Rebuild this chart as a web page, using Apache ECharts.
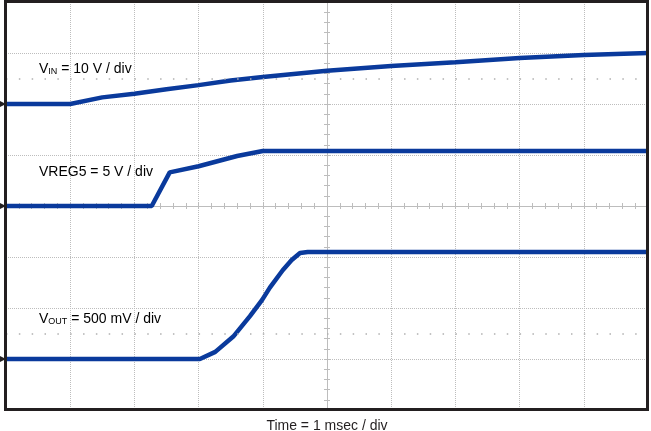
<!DOCTYPE html>
<html lang="en">
<head>
    <meta charset="UTF-8">
    <title>Startup waveforms</title>
    <script type="text/javascript" src="https://cdn.jsdelivr.net/npm/echarts@6/dist/echarts.min.js"></script>
    <style>
        html, body { margin: 0; padding: 0; background: #fff; }
    </style>
</head>
<body>
<div id="container" style="width: 651px; height: 431px"></div>
<script type="text/javascript">
    // time in ms from the left edge of the screen (1 ms / div)
    var timeVin = [0, 1.0, 1.5, 2.0, 2.5, 3.0, 3.5, 4.0, 5.0, 6.0, 7.0, 8.0, 9.0, 10.0];
    var vin = [0, 0, 1.3, 2.0, 2.9, 3.7, 4.6, 5.3, 6.5, 7.45, 8.2, 9.0, 9.6, 10.0];

    var timeVreg = [0, 2.27, 2.55, 3.0, 3.6, 4.0, 10.0];
    var vreg5 = [0, 0, 3.3, 3.9, 4.9, 5.4, 5.4];

    var timeVout = [0, 3.02, 3.26, 3.54, 3.80, 3.99, 4.11, 4.31, 4.45, 4.58, 4.70, 10.0];
    var vout = [0, 0, 0.07, 0.22, 0.42, 0.58, 0.70, 0.87, 0.97, 1.04, 1.05, 1.05];

    // volts per division and ground level (divisions from screen centre)
    var channels = [
        {name: 'VIN', t: timeVin, v: vin, scale: 10, ground: 2},
        {name: 'VREG5', t: timeVreg, v: vreg5, scale: 5, ground: 0},
        {name: 'VOUT', t: timeVout, v: vout, scale: 0.5, ground: -3}
    ];

    var traceColor = '#0a3a9c';
    var gridColor = '#bdbdbd';
    var ink = '#231f20';

    function toScreen(ch) {
        var out = [];
        for (var i = 0; i < ch.t.length; i++) {
            out.push([ch.t[i] - 5, ch.ground + ch.v[i] / ch.scale]);
        }
        return out;
    }

    var series = channels.map(function (ch, i) {
        var s = {
            name: ch.name,
            type: 'line',
            data: toScreen(ch),
            showSymbol: false,
            lineStyle: {color: traceColor, width: 4.5},
            itemStyle: {color: traceColor},
            markPoint: {
                silent: true,
                label: {show: false},
                data: [{
                    coord: [-5, ch.ground],
                    symbol: 'triangle',
                    symbolRotate: -90,
                    symbolSize: [6, 6],
                    symbolOffset: [-3, 0],
                    itemStyle: {color: ink}
                }]
            }
        };
        if (i === 0) {
            // dotted rows of the graticule
            s.markLine = {
                silent: true,
                symbol: 'none',
                label: {show: false},
                lineStyle: {color: '#b0b0b0', type: [1.5, 11.34], width: 1.5},
                data: [{yAxis: 2.5}, {yAxis: -2.5}]
            };
        }
        return s;
    });

    function axis(min, max, inside, split) {
        return {
            type: 'value',
            min: min,
            max: max,
            interval: 1,
            axisLine: {show: true, onZero: true, lineStyle: {color: gridColor, width: 1}},
            axisTick: {show: true, inside: inside, length: 3, lineStyle: {color: gridColor}},
            minorTick: {show: true, splitNumber: 5, length: 3, lineStyle: {color: gridColor}},
            axisLabel: {show: false},
            splitLine: {
                show: split, showMinLine: false, showMaxLine: false,
                lineStyle: {color: gridColor, type: [1, 1], width: 1}
            }
        };
    }

    var xA = axis(-5, 5, true, true);
    var xB = axis(-5, 5, false, false);
    xB.position = 'bottom';
    var yA = axis(-4, 4, true, true);
    var yB = axis(-4, 4, false, false);
    yB.position = 'left';

    var labelFont = {fontFamily: 'Liberation Sans, Arial, sans-serif', color: ink};

    function chLabel(main, sub, rest, top) {
        return {
            type: 'text',
            left: 39,
            top: top,
            z: 10,
            style: {
                text: '{a|' + main + '}' + (sub ? '{s|' + sub + '}' : '') + '{a|' + rest + '}',
                rich: {
                    a: Object.assign({fontSize: 14, lineHeight: 18, verticalAlign: 'bottom'}, labelFont),
                    s: Object.assign({fontSize: 9, lineHeight: 12, verticalAlign: 'bottom'}, labelFont)
                }
            }
        };
    }

    var option = {
        animation: false,
        backgroundColor: '#fff',
        grid: {left: 6, right: 3, top: 2, bottom: 21},
        xAxis: [xA, xB],
        yAxis: [yA, yB],
        series: series,
        graphic: [
            // screen frame
            {
                type: 'rect',
                z: 100,
                silent: true,
                shape: {x: 5.5, y: 1.5, width: 642, height: 408},
                style: {fill: null, stroke: ink, lineWidth: 3}
            },
            chLabel('V', 'IN', ' = 10 V / div', 62),
            chLabel('VREG5 = 5 V / div', '', '', 165),
            chLabel('V', 'OUT', ' = 500 mV / div', 312),
            {
                type: 'text',
                x: 327,
                y: 419,
                style: {
                    text: 'Time = 1 msec / div',
                    fontSize: 14,
                    fontFamily: labelFont.fontFamily,
                    textAlign: 'center',
                    fill: ink
                }
            }
        ]
    };

    var myChart = echarts.init(document.getElementById('container'));
    myChart.setOption(option);
</script>
</body>
</html>
